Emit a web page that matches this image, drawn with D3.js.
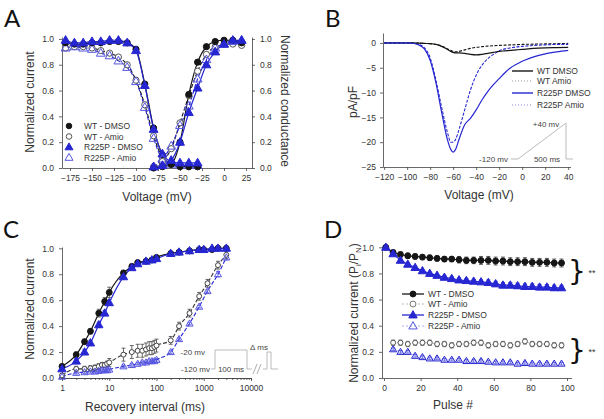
<!DOCTYPE html>
<html><head><meta charset="utf-8">
<script src="https://cdn.jsdelivr.net/npm/d3@7"></script>
<style>body{margin:0;background:#fff}</style>
</head><body><svg id="c" width="604" height="419"></svg>
<script>
// ---------- Panel A data ----------
const voltInact = [-180,-170,-160,-150,-140,-130,-120,-110,-100,-90,-80,-70,-60,-50,-40,-30];
const inactWtDmso   = [0.97,0.96,0.96,0.97,0.97,0.98,0.98,0.97,0.92,0.65,0.31,0.10,0.03,0.01,0.01,0.01];
const inactWtAmio   = [0.93,0.94,0.94,0.93,0.91,0.89,0.86,0.80,0.68,0.49,0.25,0.08,0.03,0.02,0.01,0.01];
const inactR225pDmso= [0.99,0.97,0.97,0.98,0.98,0.99,0.99,0.97,0.91,0.64,0.30,0.11,0.05,0.04,0.04,0.04];
const inactR225pAmio= [0.93,0.94,0.93,0.92,0.89,0.87,0.83,0.78,0.67,0.47,0.23,0.07,0.03,0.02,0.02,0.02];
const voltAct = [-80,-70,-60,-50,-40,-30,-20,-10,0,10,20];
const actWtDmso    = [0.00,0.01,0.03,0.20,0.57,0.82,0.94,0.98,0.99,0.99,0.97];
const actWtAmio    = [0.01,0.05,0.15,0.35,0.56,0.75,0.88,0.94,0.96,0.96,0.95];
const actR225pDmso = [0.01,0.02,0.06,0.20,0.43,0.62,0.80,0.90,0.96,0.99,0.99];
const actR225pAmio = [0.01,0.07,0.17,0.33,0.48,0.69,0.84,0.93,0.96,0.98,0.99];
const ticksA = [-175,-150,-125,-100,-75,-50,-25,0,25];
const ticksNorm = [0,0.2,0.4,0.6,0.8,1.0];
const legendA = ["WT - DMSO","WT - Amio","R225P - DMSO","R225P - Amio"];

// ---------- Panel B data ----------
const voltB = [-120,-110,-100,-95,-90,-85,-80,-75,-70,-65,-62,-60,-58,-55,-50,-45,-40,-35,-30,-25,-20,-15,-10,-5,0,10,20,30,40];
const bWtDmso   = [0,0,0,0,-0.05,-0.1,-0.15,-0.3,-0.7,-1.3,-1.7,-1.9,-2.0,-2.0,-2.1,-2.3,-2.4,-2.3,-2.1,-1.9,-1.7,-1.6,-1.5,-1.4,-1.3,-1.1,-1.0,-0.95,-0.9];
const bWtAmio   = [0,0,0,0,-0.05,-0.1,-0.15,-0.3,-0.6,-1.2,-1.5,-1.7,-1.8,-1.7,-1.4,-1.1,-0.9,-0.75,-0.65,-0.55,-0.5,-0.45,-0.4,-0.35,-0.3,-0.25,-0.2,-0.15,-0.1];
const bR225pDmso= [0,0,0,-0.1,-0.4,-1.2,-3.5,-8,-14,-19.5,-21.5,-22,-21.5,-19.5,-16.5,-15.2,-13.5,-11.5,-9.8,-8.4,-7.2,-6,-5,-4.3,-3.7,-2.8,-2.2,-1.8,-1.5];
const bR225pAmio= [0,0,0,-0.1,-0.3,-1,-3,-7.5,-13,-18,-20,-20,-19.5,-17.5,-13.5,-9.5,-6.5,-4.5,-3.2,-2.3,-1.6,-1.2,-1,-0.8,-0.7,-0.5,-0.4,-0.3,-0.3];
const ticksBx = [-120,-100,-80,-60,-40,-20,0,20,40];
const ticksBy = [0,-5,-10,-15,-20,-25];
const legendB = ["WT DMSO","WT Amio","R225P DMSO","R225P Amio"];

// ---------- Panel C data ----------
const tDmso = [1,2,3,4,6,8,10,20,30,40,60,80,100,200,300,500,800,1000,1500,2000,3000];
const recWtDmso    = [0.09,0.18,0.28,0.36,0.50,0.59,0.66,0.81,0.86,0.89,0.90,0.91,0.93,0.96,0.97,0.98,0.99,0.99,0.99,1.00,1.00];
const errWtDmso    = [0.01,0.02,0.02,0.02,0.03,0.03,0.04,0.02,0.02,0.01,0.01,0.01,0.01,0.01,0.01,0.01,0.01,0.01,0.01,0.01,0.01];
const recR225pDmso = [0.07,0.13,0.20,0.27,0.41,0.50,0.58,0.78,0.85,0.88,0.90,0.91,0.92,0.96,0.97,0.98,0.99,0.99,1.00,1.00,1.00];
const errR225pDmso = [0.01,0.02,0.02,0.02,0.02,0.02,0.02,0.02,0.01,0.01,0.01,0.01,0.01,0.01,0.01,0.01,0.01,0.01,0.01,0.01,0.01];
const tAmio = [1,2,3,4,5,6,7,8,9,10,20,30,40,50,60,70,80,90,100,200,300,500,800,1200,2000,3000];
const recWtAmio    = [0.02,0.07,0.07,0.075,0.08,0.09,0.10,0.10,0.11,0.12,0.18,0.20,0.21,0.21,0.22,0.23,0.23,0.24,0.25,0.29,0.40,0.50,0.63,0.73,0.87,0.95];
const errWtAmio    = [0.01,0.02,0.02,0.02,0.02,0.02,0.02,0.02,0.02,0.03,0.05,0.05,0.05,0.05,0.05,0.05,0.05,0.05,0.05,0.03,0.03,0.03,0.03,0.03,0.03,0.03];
const recR225pAmio = [0.01,0.04,0.045,0.05,0.05,0.055,0.06,0.06,0.06,0.065,0.09,0.10,0.11,0.12,0.12,0.13,0.13,0.13,0.14,0.20,0.30,0.42,0.55,0.67,0.80,0.93];
const errR225pAmio = [0.01,0.01,0.01,0.01,0.01,0.01,0.01,0.01,0.01,0.01,0.01,0.01,0.01,0.01,0.01,0.01,0.01,0.01,0.01,0.01,0.01,0.01,0.01,0.01,0.02,0.02];
const ticksCx = [1,10,100,1000,10000];

// ---------- Panel D data ----------
const pulses = [1,5,9,13,17,21,25,29,33,37,41,45,49,53,57,61,65,69,73,77,81,85,89,93,97];
const pulsesAmio = [5,9,13,17,21,25,29,33,37,41,45,49,53,57,61,65,69,73,77,81,85,89,93,97];
const dWtDmso     = [1.0,0.96,0.945,0.935,0.93,0.925,0.92,0.915,0.91,0.91,0.905,0.90,0.90,0.90,0.90,0.895,0.895,0.89,0.89,0.89,0.885,0.885,0.885,0.88,0.88];
const dWtDmsoErr  = [0,0.02,0.02,0.02,0.02,0.02,0.02,0.02,0.02,0.02,0.025,0.025,0.025,0.03,0.03,0.03,0.03,0.03,0.03,0.03,0.03,0.03,0.03,0.03,0.03];
const dR225pDmso  = [1.0,0.95,0.90,0.87,0.845,0.82,0.80,0.785,0.77,0.76,0.75,0.745,0.74,0.735,0.73,0.72,0.71,0.71,0.705,0.70,0.70,0.695,0.695,0.69,0.69];
const dR225pDmsoErr=[0,0.01,0.01,0.01,0.01,0.01,0.01,0.015,0.015,0.015,0.015,0.015,0.015,0.015,0.02,0.02,0.02,0.02,0.02,0.02,0.02,0.02,0.02,0.02,0.02];
const dWtAmio     = [0.27,0.27,0.26,0.27,0.27,0.27,0.26,0.26,0.25,0.26,0.26,0.27,0.27,0.25,0.26,0.26,0.25,0.26,0.28,0.26,0.26,0.26,0.25,0.25];
const dWtAmioErr  = [0.02,0.02,0.02,0.02,0.02,0.02,0.02,0.02,0.02,0.02,0.02,0.02,0.02,0.02,0.02,0.02,0.02,0.02,0.02,0.02,0.02,0.02,0.02,0.02];
const dR225pAmio  = [0.22,0.20,0.20,0.17,0.16,0.15,0.15,0.14,0.14,0.14,0.13,0.13,0.13,0.125,0.12,0.12,0.12,0.11,0.115,0.11,0.11,0.11,0.11,0.11];
const dR225pAmioErr=[0.01,0.01,0.01,0.01,0.01,0.01,0.01,0.01,0.01,0.01,0.01,0.01,0.01,0.01,0.01,0.01,0.01,0.01,0.01,0.01,0.01,0.01,0.01,0.01];
const ticksDx = [0,20,40,60,80,100];

// ---------- drawing ----------
const svg = d3.select('#c');
const FONT = '"Liberation Sans", Arial, sans-serif';
const BLACK = '#161616', GREY = '#555', BLUE = '#2626d2', LBLUE = '#5656e0';
svg.append('rect').attr('width',604).attr('height',419).attr('fill','#fff');

function styleAxis(g){
  g.selectAll('path,line').attr('stroke','#444').attr('stroke-width',0.8);
  g.selectAll('text').attr('font-family',FONT).attr('font-size',8.5).attr('fill','#333');
}
function text(x,y,s,opt={}){
  const t = svg.append('text').attr('x',x).attr('y',y).text(s)
    .attr('font-family',opt.family||FONT).attr('font-size',opt.size||12)
    .attr('fill',opt.fill||'#222').attr('text-anchor',opt.anchor||'start');
  if(opt.rot!==undefined){ t.attr('x',0).attr('y',0).attr('dy','0.35em').attr('transform',`translate(${x},${y}) rotate(${opt.rot})`); }
  return t;
}
function mark(g,type,x,y,color,sz){
  sz = sz||1;
  if(type==='circle'||type==='ocircle'){
    g.append('circle').attr('cx',x).attr('cy',y).attr('r',3.1*sz)
      .attr('fill',type==='circle'?color:'#fff').attr('stroke',color).attr('stroke-width',1);
  } else {
    g.append('path').attr('d',d3.symbol().type(d3.symbolTriangle).size(34*sz*sz)())
      .attr('transform',`translate(${x},${y+0.5})`)
      .attr('fill',type==='tri'?color:'none').attr('stroke',color).attr('stroke-width',1);
  }
}
function errbar(g,x,y0,y1,color){
  g.append('line').attr('x1',x).attr('x2',x).attr('y1',y0).attr('y2',y1).attr('stroke',color).attr('stroke-width',0.8);
  [y0,y1].forEach(y=>g.append('line').attr('x1',x-2).attr('x2',x+2).attr('y1',y).attr('y2',y).attr('stroke',color).attr('stroke-width',0.8));
}
function curve(g,xs,ys,sx,sy,color,dash,w,cv){
  const pts = xs.map((v,i)=>[sx(v),sy(ys[i])]);
  g.append('path').attr('d',d3.line().curve(cv||d3.curveMonotoneX)(pts))
    .attr('fill','none').attr('stroke',color).attr('stroke-width',w||1.2)
    .attr('stroke-dasharray',dash||null);
}

// Panel labels
text(4,27,'A',{size:24,family:'Lato, "Open Sans", sans-serif',fill:'#111'});
text(325,27,'B',{size:24,family:'Lato, "Open Sans", sans-serif',fill:'#111'});
text(3,238,'C',{size:24,family:'Lato, "Open Sans", sans-serif',fill:'#111'});
text(324,238,'D',{size:24,family:'Lato, "Open Sans", sans-serif',fill:'#111'});

// ===== Panel A =====
{
  const g = svg.append('g');
  const x = d3.scaleLinear().domain([-184.1,31.8]).range([62,252]);
  const y = d3.scaleLinear().domain([0,1.015]).range([168,37]);
  const ax = g.append('g').attr('transform','translate(0,168)')
    .call(d3.axisBottom(x).tickValues(ticksA).tickSize(3).tickSizeOuter(0).tickPadding(4));
  styleAxis(ax);
  const ay = g.append('g').attr('transform','translate(62,0)')
    .call(d3.axisLeft(y).tickValues(ticksNorm).tickFormat(d3.format('.1f')).tickSize(3).tickSizeOuter(0).tickPadding(5));
  styleAxis(ay);
  const ar = g.append('g').attr('transform','translate(252,0)')
    .call(d3.axisRight(y).tickValues(ticksNorm).tickFormat(d3.format('.1f')).tickSize(3).tickSizeOuter(0).tickPadding(5));
  styleAxis(ar);

  curve(g,voltInact,inactWtAmio,x,y,BLACK,'4,2',1.1);
  curve(g,voltInact,inactR225pAmio,x,y,BLUE,'4,2',1.1);
  curve(g,voltInact,inactWtDmso,x,y,BLACK,null,1.2);
  curve(g,voltInact,inactR225pDmso,x,y,BLUE,null,1.2);
  curve(g,voltAct,actWtAmio,x,y,BLACK,'4,2',1.1);
  curve(g,voltAct,actR225pAmio,x,y,BLUE,'4,2',1.1);
  curve(g,voltAct,actWtDmso,x,y,BLACK,null,1.2);
  curve(g,voltAct,actR225pDmso,x,y,BLUE,null,1.2);

  voltInact.forEach((v,i)=>{
    mark(g,'ocircle',x(v),y(inactWtAmio[i]),GREY);
    mark(g,'otri',x(v),y(inactR225pAmio[i]),LBLUE);
    mark(g,'circle',x(v),y(inactWtDmso[i]),BLACK);
    mark(g,'tri',x(v),y(inactR225pDmso[i]),BLUE);
  });
  voltAct.forEach((v,i)=>{
    mark(g,'ocircle',x(v),y(actWtAmio[i]),GREY);
    mark(g,'otri',x(v),y(actR225pAmio[i]),LBLUE);
    mark(g,'circle',x(v),y(actWtDmso[i]),BLACK);
    mark(g,'tri',x(v),y(actR225pDmso[i]),BLUE);
  });
  // legend
  const types = ['circle','ocircle','tri','otri'];
  const cols = [BLACK,GREY,BLUE,LBLUE];
  legendA.forEach((s,i)=>{
    const yy = 126 + i*10.5;
    const lg = svg.append('g');
    mark(lg,types[i],69,yy,cols[i],0.9);
    text(84,yy+3,s,{size:8.5,fill:'#333'});
  });
  text(30,102,'Normalized current',{size:12,anchor:'middle',rot:-90,fill:'#333'});
  text(285,101,'Normalized conductance',{size:12,anchor:'middle',rot:90,fill:'#333'});
  text(157,201,'Voltage (mV)',{size:12,anchor:'middle',fill:'#333'});
}

// ===== Panel B =====
{
  const g = svg.append('g');
  const x = d3.scaleLinear().domain([-121,42]).range([383,570.5]);
  const y = d3.scaleLinear().domain([-25,2]).range([167,33]);
  const ax = g.append('g').attr('transform','translate(0,167)')
    .call(d3.axisBottom(x).tickValues(ticksBx).tickSize(3).tickSizeOuter(0).tickPadding(4));
  styleAxis(ax);
  const ay = g.append('g').attr('transform','translate(383,0)')
    .call(d3.axisLeft(y).tickValues(ticksBy).tickSize(3).tickSizeOuter(0).tickPadding(4));
  styleAxis(ay);

  // inset protocol
  svg.append('path').attr('d','M511,159H518L566,123V159H573').attr('fill','none').attr('stroke','#bbb').attr('stroke-width',1);
  svg.append('rect').attr('x',531).attr('y',154).attr('width',30).attr('height',10).attr('fill','#fff');
  text(508,162,'-120 mv',{size:8,anchor:'end',fill:'#444'});
  text(546,127,'+40 mv',{size:8,anchor:'middle',fill:'#444'});
  text(547,162,'500 ms',{size:8,anchor:'middle',fill:'#444'});

  curve(g,voltB,bWtAmio,x,y,BLACK,'3,1.5',1.1);
  curve(g,voltB,bR225pAmio,x,y,BLUE,'3,1.5',1.1);
  curve(g,voltB,bWtDmso,x,y,BLACK,null,1.2);
  curve(g,voltB,bR225pDmso,x,y,BLUE,null,1.2);

  const cols = [BLACK,'#999',BLUE,'#8a8ae8'];
  const dashes = [null,'1,2',null,'1,2'];
  legendB.forEach((s,i)=>{
    const yy = [71,81,93,105][i];
    svg.append('line').attr('x1',512).attr('x2',533).attr('y1',yy).attr('y2',yy)
      .attr('stroke',cols[i]).attr('stroke-width',dashes[i]?1:1.4).attr('stroke-dasharray',dashes[i]);
    text(537,yy+3,s,{size:8.5,fill:'#333'});
  });
  text(353,102,'pA/pF',{size:12,anchor:'middle',rot:-90,fill:'#333'});
  text(479,199,'Voltage (mV)',{size:12,anchor:'middle',fill:'#333'});
}

// ===== Panel C =====
{
  const g = svg.append('g');
  const x = d3.scaleLog().domain([1,10000]).range([62,251]);
  const y = d3.scaleLinear().domain([0,1.01]).range([378,247]);
  const minor = [];
  [1,10,100,1000].forEach(d=>{for(let k=2;k<10;k++) minor.push(d*k);});
  const am = g.append('g').attr('transform','translate(0,378)')
    .call(d3.axisBottom(x).tickValues(minor).tickSize(2).tickFormat(''));
  styleAxis(am);
  const ax = g.append('g').attr('transform','translate(0,378)')
    .call(d3.axisBottom(x).tickValues(ticksCx).tickFormat(d3.format('d')).tickSize(3).tickSizeOuter(0).tickPadding(4));
  styleAxis(ax);
  const ay = g.append('g').attr('transform','translate(62,0)')
    .call(d3.axisLeft(y).tickValues(ticksNorm).tickFormat(d3.format('.1f')).tickSize(3).tickSizeOuter(0).tickPadding(5));
  styleAxis(ay);

  // inset protocol
  svg.append('path').attr('d','M211,369H215V350H247V369H252M263,369H267V352H271V369H278').attr('fill','none').attr('stroke','#bbb').attr('stroke-width',1);
  svg.append('path').attr('d','M253,374L257,364M257,374L261,364').attr('stroke','#999').attr('stroke-width',0.8);
  svg.append('rect').attr('x',216).attr('y',364).attr('width',30).attr('height',10).attr('fill','#fff');
  text(205,355,'-20 mv',{size:8,anchor:'end',fill:'#444'});
  text(210,372,'-120 mv',{size:8,anchor:'end',fill:'#444'});
  text(231,372,'100 ms',{size:8,anchor:'middle',fill:'#444'});
  text(259,350,'Δ ms',{size:8,anchor:'middle',fill:'#444'});

  curve(g,tAmio,recWtAmio,x,y,'#333','4,2',1.1);
  curve(g,tAmio,recR225pAmio,x,y,BLUE,'4,2',1.1);
  curve(g,tDmso,recWtDmso,x,y,BLACK,null,1.2);
  curve(g,tDmso,recR225pDmso,x,y,BLUE,null,1.2);

  tAmio.forEach((t,i)=>{
    errbar(g,x(t),y(recWtAmio[i]-errWtAmio[i]),y(recWtAmio[i]+errWtAmio[i]),'#444');
    errbar(g,x(t),y(recR225pAmio[i]-errR225pAmio[i]),y(recR225pAmio[i]+errR225pAmio[i]),LBLUE);
  });
  tDmso.forEach((t,i)=>{
    errbar(g,x(t),y(recWtDmso[i]-errWtDmso[i]),y(recWtDmso[i]+errWtDmso[i]),'#444');
    errbar(g,x(t),y(recR225pDmso[i]-errR225pDmso[i]),y(recR225pDmso[i]+errR225pDmso[i]),BLUE);
  });
  tAmio.forEach((t,i)=>{
    mark(g,'ocircle',x(t),y(recWtAmio[i]),'#444',0.8);
    mark(g,'otri',x(t),y(recR225pAmio[i]),LBLUE,0.8);
  });
  tDmso.forEach((t,i)=>{
    mark(g,'circle',x(t),y(recWtDmso[i]),BLACK,0.95);
    mark(g,'tri',x(t),y(recR225pDmso[i]),BLUE,0.95);
  });
  text(30,309,'Normalized current',{size:12,anchor:'middle',rot:-90,fill:'#333'});
  text(145,411,'Recovery interval (ms)',{size:12,anchor:'middle',fill:'#333'});
}

// ===== Panel D =====
{
  const g = svg.append('g');
  const x = d3.scaleLinear().domain([0,102.5]).range([384,571.6]);
  const y = d3.scaleLinear().domain([0,1.01]).range([378,246]);
  const ax = g.append('g').attr('transform','translate(0,378)')
    .call(d3.axisBottom(x).tickValues(ticksDx).tickSize(3).tickSizeOuter(0).tickPadding(4));
  styleAxis(ax);
  g.append('line').attr('x1',382).attr('x2',384).attr('y1',378.4).attr('y2',378.4).attr('stroke','#444').attr('stroke-width',0.8);
  const ay = g.append('g').attr('transform','translate(382,0)')
    .call(d3.axisLeft(y).tickValues(ticksNorm).tickFormat(d3.format('.1f')).tickSize(3).tickSizeOuter(0).tickPadding(5));
  styleAxis(ay);

  curve(g,pulsesAmio,dWtAmio,x,y,'#999','2,2',0.7,d3.curveLinear);
  curve(g,pulsesAmio,dR225pAmio,x,y,'#9a9ae8','2,2',0.7,d3.curveLinear);
  curve(g,pulses,dWtDmso,x,y,BLACK,null,1.2,d3.curveLinear);
  curve(g,pulses,dR225pDmso,x,y,BLUE,null,1.2,d3.curveLinear);

  pulses.forEach((p,i)=>{
    if(dWtDmsoErr[i]>0) errbar(g,x(p),y(dWtDmso[i]-dWtDmsoErr[i]),y(dWtDmso[i]+dWtDmsoErr[i]),'#333');
    if(dR225pDmsoErr[i]>0) errbar(g,x(p),y(dR225pDmso[i]-dR225pDmsoErr[i]),y(dR225pDmso[i]+dR225pDmsoErr[i]),BLUE);
  });
  pulsesAmio.forEach((p,i)=>{
    errbar(g,x(p),y(dWtAmio[i]-dWtAmioErr[i]),y(dWtAmio[i]+dWtAmioErr[i]),'#555');
    errbar(g,x(p),y(dR225pAmio[i]-dR225pAmioErr[i]),y(dR225pAmio[i]+dR225pAmioErr[i]),LBLUE);
    mark(g,'ocircle',x(p),y(dWtAmio[i]),'#555',0.8);
    mark(g,'otri',x(p),y(dR225pAmio[i]),BLUE,0.8);
  });
  pulses.forEach((p,i)=>{
    mark(g,'circle',x(p),y(dWtDmso[i]),BLACK,0.95);
    mark(g,'tri',x(p),y(dR225pDmso[i]),BLUE,0.95);
  });

  // legend
  const types = ['circle','ocircle','tri','otri'];
  const cols = [BLACK,'#777',BLUE,LBLUE];
  const lcols = [BLACK,'#aaa',BLUE,'#9a9ae8'];
  const dashes = [null,'2,2',null,'2,2'];
  legendA.forEach((s,i)=>{
    const yy = [294,304,315,326][i];
    svg.append('line').attr('x1',402).attr('x2',424).attr('y1',yy).attr('y2',yy)
      .attr('stroke',lcols[i]).attr('stroke-width',dashes[i]?0.8:1.3).attr('stroke-dasharray',dashes[i]);
    const lg = svg.append('g');
    mark(lg,types[i],413,yy,cols[i],0.95);
    text(428,yy+3,s,{size:8.5,fill:'#333'});
  });
  // braces
  text(577,281,'}',{size:28,family:'"DejaVu Sans", sans-serif',anchor:'middle',fill:'#111'});
  text(577,360,'}',{size:28,family:'"DejaVu Sans", sans-serif',anchor:'middle',fill:'#111'});
  text(592,276,'**',{size:9,anchor:'middle',fill:'#333'});
  text(592,355,'**',{size:9,anchor:'middle',fill:'#333'});

  const yt = svg.append('text').attr('transform','translate(354,313) rotate(-90)')
    .attr('text-anchor','middle').attr('dy','0.35em')
    .attr('font-family',FONT).attr('font-size',12).attr('fill','#333');
  yt.append('tspan').text('Normalized current (P');
  yt.append('tspan').text('i').attr('font-size',8).attr('dy',3);
  yt.append('tspan').text('/P').attr('dy',-3);
  yt.append('tspan').text('N').attr('font-size',8).attr('dy',3);
  yt.append('tspan').text(')').attr('dy',-3);
  text(453,409,'Pulse #',{size:12,anchor:'middle',fill:'#333'});
}
</script></body></html>
